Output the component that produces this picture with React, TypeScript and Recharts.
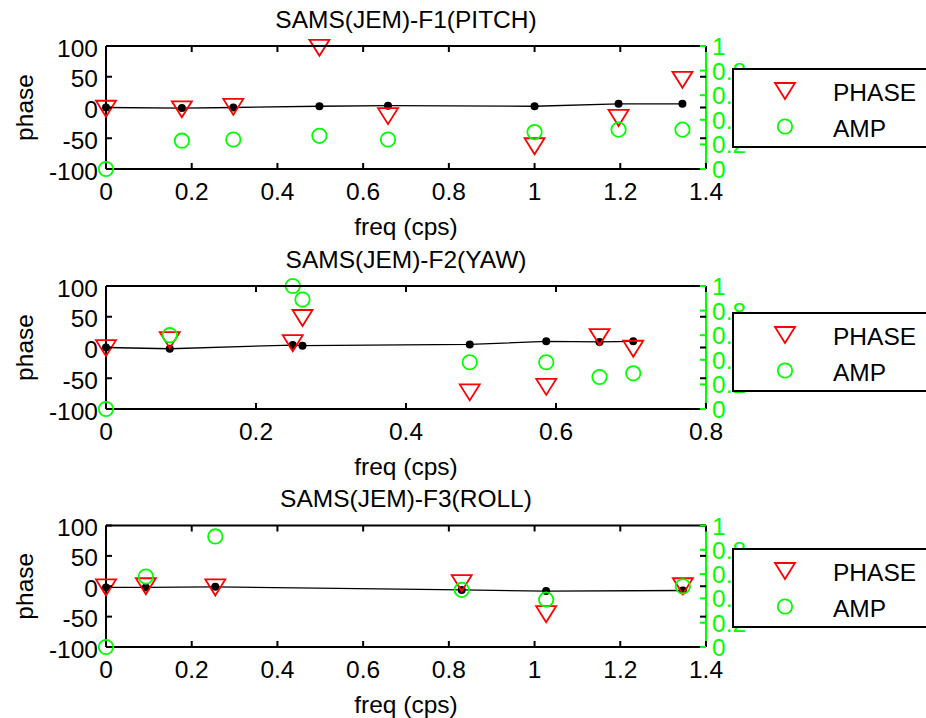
import React from 'react';
import { ComposedChart, Scatter, XAxis, YAxis, Legend, Label } from 'recharts';

// ---------- data ----------
const F1_FREQ = [0, 0.177, 0.297, 0.498, 0.658, 1.0, 1.196, 1.345];
const F1_PHASE = [-2, -3, 1, 97, -14, -63, -17, 45];
const F1_AMP = [0, 0.23, 0.24, 0.27, 0.24, 0.3, 0.32, 0.32];
const F1_FIT = [0, -1, 0, 2, 3, 2, 6, 6];

const F2_FREQ = [0, 0.085, 0.249, 0.262, 0.485, 0.587, 0.658, 0.703];
const F2_PHASE = [-1, 12, 7, 48, -73, -64, 17, -2];
const F2_AMP = [0, 0.6, 1.0, 0.89, 0.38, 0.38, 0.26, 0.29];
const F2_FIT = [0, -2, 4, 3, 5, 10, 9, 10];

const F3_FREQ = [0, 0.093, 0.255, 0.83, 1.027, 1.346];
const F3_PHASE = [-2, 0, -2, 5, -46, 0];
const F3_AMP = [0, 0.58, 0.91, 0.47, 0.39, 0.5];
const F3_FIT = [-2, -2, -1, -6, -8, -7];

const TITLES = ['SAMS(JEM)-F1(PITCH)', 'SAMS(JEM)-F2(YAW)', 'SAMS(JEM)-F3(ROLL)'];
const FREQ_TICKS_WIDE = [0, 0.2, 0.4, 0.6, 0.8, 1, 1.2, 1.4];
const FREQ_TICKS_NARROW = [0, 0.2, 0.4, 0.6, 0.8];
const PHASE_TICKS = [-100, -50, 0, 50, 100];
const AMP_TICKS = [0, 0.2, 0.4, 0.6, 0.8, 1];
const LEGEND_NAMES = ['PHASE', 'AMP'];
const X_LABEL = 'freq (cps)';
const Y_LABEL = 'phase';

// ---------- style ----------
const FONT = '"Liberation Sans", Arial, Helvetica, sans-serif';
const FS = 24.5;
const RED = '#ff0000';
const GREEN = '#00ff00';
const PLOT_W = 600;
const TICK = 6;

const Tri = (p: any) => {
  const { cx, cy } = p;
  if (cx == null || cy == null) return <g />;
  return (
    <polygon
      points={`${cx - 10},${cy - 8} ${cx + 10},${cy - 8} ${cx},${cy + 8}`}
      fill="none"
      stroke={RED}
      strokeWidth={1.8}
    />
  );
};
const Circ = (p: any) => {
  const { cx, cy } = p;
  if (cx == null || cy == null) return <g />;
  return <circle cx={cx} cy={cy} r={7.2} fill="none" stroke={GREEN} strokeWidth={1.8} />;
};
const Dot = (p: any) => {
  const { cx, cy } = p;
  if (cx == null || cy == null) return <g />;
  return <circle cx={cx} cy={cy} r={4} fill="#000" />;
};

function Panel(props: {
  title: string;
  freq: number[];
  phase: number[];
  amp: number[];
  fit: number[];
  xTicks: number[];
  height: number;
  top: number;
  plotH: number;
  legendTop: number;
}) {
  const { title, freq, phase, amp, fit, xTicks, height, top, plotH, legendTop } = props;
  const xMax = xTicks[xTicks.length - 1];
  const phaseData = freq.map((f, i) => ({ f, phase: phase[i] }));
  const ampData = freq.map((f, i) => ({ f, amp: amp[i] }));
  const fitData = freq.map((f, i) => ({ f, phase: fit[i] }));
  const bottom = height - top - plotH - 60;
  const phaseMax = PHASE_TICKS[PHASE_TICKS.length - 1];

  const BottomTick = (p: any) => {
    const { x, y, payload } = p;
    return (
      <g>
        <line x1={x} y1={y} x2={x} y2={y - TICK} stroke="#000" strokeWidth={2} />
        <line x1={x} y1={y - plotH} x2={x} y2={y - plotH + TICK} stroke="#000" strokeWidth={2} />
        <text x={x} y={y + 31} textAnchor="middle" fontSize={FS} fontFamily={FONT} fill="#000">
          {String(payload.value)}
        </text>
      </g>
    );
  };
  const LeftTick = (p: any) => {
    const { x, y, payload } = p;
    return (
      <g>
        {payload.value === phaseMax ? (
          <line x1={x} y1={y} x2={x + PLOT_W} y2={y} stroke="#000" strokeWidth={2} />
        ) : null}
        <line x1={x} y1={y} x2={x + TICK} y2={y} stroke="#000" strokeWidth={2} />
        <line x1={x + PLOT_W - TICK} y1={y} x2={x + PLOT_W} y2={y} stroke="#000" strokeWidth={2} />
        <text x={x - 8} y={y + 10.5} textAnchor="end" fontSize={FS} fontFamily={FONT} fill="#000">
          {String(payload.value)}
        </text>
      </g>
    );
  };
  const RightTick = (p: any) => {
    const { x, y, payload } = p;
    return (
      <g>
        <line x1={x - TICK} y1={y} x2={x} y2={y} stroke={GREEN} strokeWidth={2} />
        <text x={x + 6} y={y + 9} textAnchor="start" fontSize={FS} fontFamily={FONT} fill={GREEN}>
          {String(payload.value)}
        </text>
      </g>
    );
  };

  const XLabelContent = (p: any) => {
    const vb = p.viewBox || {};
    const cx = vb.x + vb.width / 2;
    return (
      <g>
        <text x={cx} y={vb.y + 66} textAnchor="middle" fontSize={FS} fontFamily={FONT} fill="#000">
          {X_LABEL}
        </text>
        <text x={cx} y={vb.y - plotH - 18.5} textAnchor="middle" fontSize={FS} fontFamily={FONT} fill="#000">
          {title}
        </text>
      </g>
    );
  };
  const YLabelContent = (p: any) => {
    const vb = p.viewBox || {};
    const cx = vb.x + 33;
    const cy = vb.y + vb.height / 2;
    return (
      <text
        x={cx}
        y={cy}
        transform={`rotate(-90 ${cx} ${cy})`}
        textAnchor="middle"
        fontSize={FS}
        fontFamily={FONT}
        fill="#000"
      >
        {Y_LABEL}
      </text>
    );
  };

  const LegendBox = () => (
    <div
      style={{
        width: 210,
        height: 80,
        boxSizing: 'border-box',
        border: '2px solid #000',
        background: '#fff',
      }}
    >
      <svg width={206} height={76} style={{ display: 'block' }}>
        <polygon points={`${51 - 10},${21 - 8} ${51 + 10},${21 - 8} ${51},${21 + 8}`} fill="none" stroke={RED} strokeWidth={1.8} />
        <text x={99} y={31} fontSize={FS} fontFamily={FONT} fill="#000">
          {LEGEND_NAMES[0]}
        </text>
        <circle cx={51} cy={56.5} r={7.2} fill="none" stroke={GREEN} strokeWidth={1.8} />
        <text x={99} y={67} fontSize={FS} fontFamily={FONT} fill="#000">
          {LEGEND_NAMES[1]}
        </text>
      </svg>
    </div>
  );

  return (
    <ComposedChart width={926} height={height} margin={{ top, right: 160, bottom, left: 0 }}>
      <XAxis
        xAxisId="b"
        dataKey="f"
        type="number"
        domain={[0, xMax]}
        ticks={xTicks}
        interval={0}
        height={60}
        tickSize={0}
        tickMargin={0}
        tickLine={false}
        axisLine={{ stroke: '#000', strokeWidth: 2 }}
        tick={BottomTick}
      >
        <Label content={XLabelContent} />
      </XAxis>
      <YAxis
        yAxisId="l"
        dataKey="phase"
        type="number"
        domain={[-100, 100]}
        ticks={PHASE_TICKS}
        interval={0}
        width={106}
        tickSize={0}
        tickMargin={0}
        tickLine={false}
        axisLine={{ stroke: '#000', strokeWidth: 2 }}
        tick={LeftTick}
      >
        <Label content={YLabelContent} />
      </YAxis>
      <YAxis
        yAxisId="r"
        orientation="right"
        dataKey="amp"
        type="number"
        domain={[0, 1]}
        ticks={AMP_TICKS}
        interval={0}
        width={60}
        tickSize={0}
        tickMargin={0}
        tickLine={false}
        axisLine={{ stroke: GREEN, strokeWidth: 2 }}
        tick={RightTick}
      />
      <Scatter
        name="fit"
        xAxisId="b"
        yAxisId="l"
        data={fitData}
        line={{ stroke: '#000', strokeWidth: 1.3 }}
        lineType="joint"
        shape={Dot}
        legendType="none"
        isAnimationActive={false}
      />
      <Scatter name="PHASE" xAxisId="b" yAxisId="l" data={phaseData} shape={Tri} isAnimationActive={false} />
      <Scatter name="AMP" xAxisId="b" yAxisId="r" data={ampData} shape={Circ} isAnimationActive={false} />
      <Legend
        layout="vertical"
        align="center"
        verticalAlign="middle"
        content={() => <LegendBox />}
        wrapperStyle={{ left: 732, top: legendTop, width: 210, height: 80 }}
      />
    </ComposedChart>
  );
}

export default function App() {
  return (
    <div
      style={{
        position: 'absolute',
        left: 0,
        top: 0,
        width: 926,
        height: 718,
        overflow: 'hidden',
        background: '#fff',
        fontFamily: FONT,
      }}
    >
      <Panel title={TITLES[0]} freq={F1_FREQ} phase={F1_PHASE} amp={F1_AMP} fit={F1_FIT} xTicks={FREQ_TICKS_WIDE} height={240} top={46} plotH={123} legendTop={68} />
      <Panel title={TITLES[1]} freq={F2_FREQ} phase={F2_PHASE} amp={F2_AMP} fit={F2_FIT} xTicks={FREQ_TICKS_NARROW} height={240} top={46} plotH={123} legendTop={72} />
      <Panel title={TITLES[2]} freq={F3_FREQ} phase={F3_PHASE} amp={F3_AMP} fit={F3_FIT} xTicks={FREQ_TICKS_WIDE} height={238} top={45.5} plotH={121.5} legendTop={68} />
    </div>
  );
}
